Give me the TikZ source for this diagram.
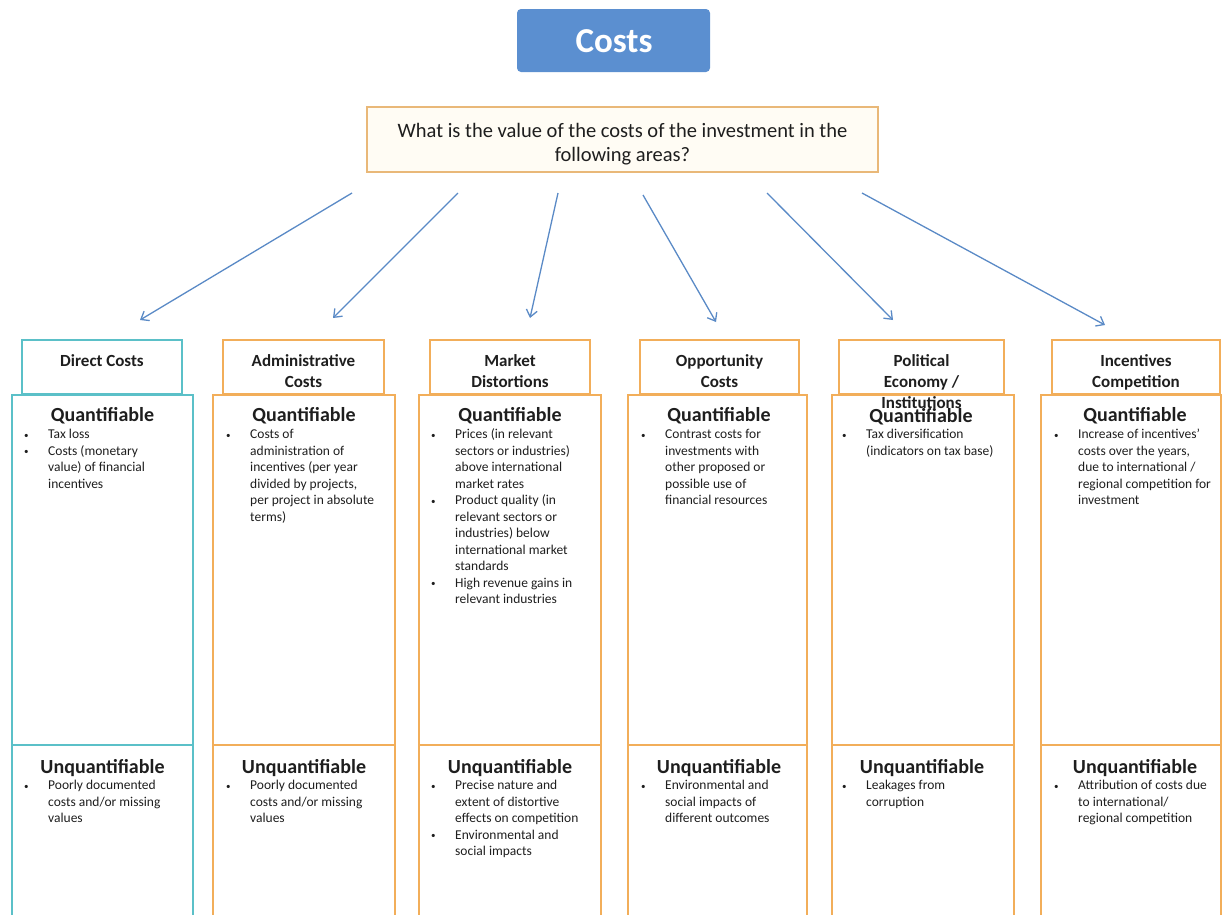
\documentclass[tikz,border=0pt]{standalone}
\usepackage{fontspec}
\setmainfont{Carlito}
\usetikzlibrary{arrows.meta}
\definecolor{costblue}{HTML}{5B8FD0}
\definecolor{orangeb}{HTML}{F2AE5A}
\definecolor{tealb}{HTML}{5BC0C8}
\definecolor{qborder}{HTML}{E9B878}
\definecolor{qfill}{HTML}{FFFCF4}
\definecolor{arrowc}{HTML}{5A8AC6}
\definecolor{txt}{HTML}{1E1E1E}
\tikzset{
  boxo/.style={draw=orangeb, line width=1.8pt, inner sep=0pt, rectangle},
  boxt/.style={draw=tealb, line width=1.8pt, inner sep=0pt, rectangle},
  htext/.style={anchor=north, inner sep=0pt, align=center, text=txt,
    font=\fontsize{17}{21}\selectfont\bfseries},
  qhead/.style={inner sep=0pt, text=txt, font=\fontsize{20}{24}\selectfont\bfseries},
  lst/.style={anchor=north west, inner sep=0pt, text=txt,
    font=\fontsize{13.5}{16.5}\selectfont},
  arr/.style={draw=arrowc, line width=1.3pt, -{Straight Barb[length=7pt,width=11pt,line width=1.3pt]}},
}
\newcommand\bul{\raisebox{0.5pt}{\fontsize{9}{9}\selectfont\textbullet}}
\begin{document}
\begin{tikzpicture}[x=1pt,y=-1pt]
\useasboundingbox (0,0) rectangle (1222,914);
\clip (0,0) rectangle (1222,914);

% title
\node[rectangle, rounded corners=4pt, fill=costblue, minimum width=193pt, minimum height=63pt,
  inner sep=0pt] (costs) at (613.5,40.5) {};
\node[text=white, inner sep=0pt, font=\fontsize{35}{40}\selectfont\bfseries] (coststxt) at (614,41) {Costs};

% question
\node[rectangle, draw=qborder, fill=qfill, line width=1.8pt, minimum width=511pt, minimum height=65pt,
  inner sep=0pt] (q) at (622.5,139.5) {};
\node[inner sep=0pt, align=center, text=txt, font=\fontsize{20.5}{24}\selectfont] (qtxt) at (622.5,144)
  {What is the value of the costs of the investment in the\\following areas?};

% arrows
\coordinate (s1) at (352,193); \coordinate (e1) at (140,320);
\coordinate (s2) at (458,193); \coordinate (e2) at (333,318);
\coordinate (s3) at (558,193); \coordinate (e3) at (530,318);
\coordinate (s4) at (643,195); \coordinate (e4) at (716,322);
\coordinate (s5) at (767,193); \coordinate (e5) at (893,320);
\coordinate (s6) at (862,193); \coordinate (e6) at (1105,325);
\foreach \i in {1,...,6} { \draw[arr] (s\i) -- (e\i); }

% ---------- column 1 : Direct Costs ----------
\node[boxt, minimum width=181pt, minimum height=350pt] (b1q) at (102.5,570) {};
\node[boxt, minimum width=181pt, minimum height=200pt] (b1u) at (102.5,845) {};
\node[boxt, minimum width=160pt, minimum height=54pt] (h1) at (102,367) {};
\node[htext] (h1t) at (102,354) {Direct Costs};
\node[qhead] (q1) at (102.5,416) {Quantifiable};
\node[qhead] (u1) at (102.5,768) {Unquantifiable};
\node[lst] (l1q) at (24,427) {\begin{tabular}{@{}p{24pt}@{}l@{}}
\bul & Tax loss\\
\bul & Costs (monetary\\
 & value) of financial\\
 & incentives
\end{tabular}};
\node[lst] (l1u) at (24,778) {\begin{tabular}{@{}p{24pt}@{}l@{}}
\bul & Poorly documented\\
 & costs and/or missing\\
 & values
\end{tabular}};

% ---------- column 2 : Administrative Costs ----------
\node[boxo, minimum width=182pt, minimum height=350pt] (b2q) at (304,570) {};
\node[boxo, minimum width=182pt, minimum height=200pt] (b2u) at (304,845) {};
\node[boxo, minimum width=161pt, minimum height=54pt] (h2) at (303.5,367) {};
\node[htext] (h2t) at (303.5,354) {Administrative\\Costs};
\node[qhead] (q2) at (304,416) {Quantifiable};
\node[qhead] (u2) at (304,768) {Unquantifiable};
\node[lst] (l2q) at (226,427) {\begin{tabular}{@{}p{24pt}@{}l@{}}
\bul & Costs of\\
 & administration of\\
 & incentives (per year\\
 & divided by projects,\\
 & per project in absolute\\
 & terms)
\end{tabular}};
\node[lst] (l2u) at (226,778) {\begin{tabular}{@{}p{24pt}@{}l@{}}
\bul & Poorly documented\\
 & costs and/or missing\\
 & values
\end{tabular}};

% ---------- column 3 : Market Distortions ----------
\node[boxo, minimum width=182pt, minimum height=350pt] (b3q) at (510,570) {};
\node[boxo, minimum width=182pt, minimum height=200pt] (b3u) at (510,845) {};
\node[boxo, minimum width=160pt, minimum height=54pt] (h3) at (510,367) {};
\node[htext] (h3t) at (510,354) {Market\\Distortions};
\node[qhead] (q3) at (510,416) {Quantifiable};
\node[qhead] (u3) at (510,768) {Unquantifiable};
\node[lst] (l3q) at (431,427) {\begin{tabular}{@{}p{24pt}@{}l@{}}
\bul & Prices (in relevant\\
 & sectors or industries)\\
 & above international\\
 & market rates\\
\bul & Product quality (in\\
 & relevant sectors or\\
 & industries) below\\
 & international market\\
 & standards\\
\bul & High revenue gains in\\
 & relevant industries
\end{tabular}};
\node[lst] (l3u) at (431,778) {\begin{tabular}{@{}p{24pt}@{}l@{}}
\bul & Precise nature and\\
 & extent of distortive\\
 & effects on competition\\
\bul & Environmental and\\
 & social impacts
\end{tabular}};

% ---------- column 4 : Opportunity Costs ----------
\node[boxo, minimum width=179pt, minimum height=350pt] (b4q) at (717.5,570) {};
\node[boxo, minimum width=179pt, minimum height=200pt] (b4u) at (717.5,845) {};
\node[boxo, minimum width=159pt, minimum height=54pt] (h4) at (719.5,367) {};
\node[htext] (h4t) at (719.5,354) {Opportunity\\Costs};
\node[qhead] (q4) at (719,416) {Quantifiable};
\node[qhead] (u4) at (719,768) {Unquantifiable};
\node[lst] (l4q) at (641,427) {\begin{tabular}{@{}p{24pt}@{}l@{}}
\bul & Contrast costs for\\
 & investments with\\
 & other proposed or\\
 & possible use of\\
 & financial resources
\end{tabular}};
\node[lst] (l4u) at (641,778) {\begin{tabular}{@{}p{24pt}@{}l@{}}
\bul & Environmental and\\
 & social impacts of\\
 & different outcomes
\end{tabular}};

% ---------- column 5 : Political Economy / Institutions ----------
\node[boxo, minimum width=182pt, minimum height=350pt] (b5q) at (923,570) {};
\node[boxo, minimum width=182pt, minimum height=200pt] (b5u) at (923,845) {};
\node[boxo, minimum width=165pt, minimum height=54pt] (h5) at (921.5,367) {};
\node[htext] (h5t) at (921.5,354) {Political\\Economy /\\Institutions};
\node[qhead] (q5) at (921,417) {Quantifiable};
\node[qhead] (u5) at (922,768) {Unquantifiable};
\node[lst] (l5q) at (842,427) {\begin{tabular}{@{}p{24pt}@{}l@{}}
\bul & Tax diversification\\
 & (indicators on tax base)
\end{tabular}};
\node[lst] (l5u) at (842,778) {\begin{tabular}{@{}p{24pt}@{}l@{}}
\bul & Leakages from\\
 & corruption
\end{tabular}};

% ---------- column 6 : Incentives Competition ----------
\node[boxo, minimum width=180pt, minimum height=350pt] (b6q) at (1131,570) {};
\node[boxo, minimum width=180pt, minimum height=200pt] (b6u) at (1131,845) {};
\node[boxo, minimum width=168pt, minimum height=54pt] (h6) at (1136,367) {};
\node[htext] (h6t) at (1136,354) {Incentives\\Competition};
\node[qhead] (q6) at (1135,416) {Quantifiable};
\node[qhead] (u6) at (1135,768) {Unquantifiable};
\node[lst] (l6q) at (1054,427) {\begin{tabular}{@{}p{24pt}@{}l@{}}
\bul & Increase of incentives'\\
 & costs over the years,\\
 & due to international /\\
 & regional competition for\\
 & investment
\end{tabular}};
\node[lst] (l6u) at (1054,778) {\begin{tabular}{@{}p{24pt}@{}l@{}}
\bul & Attribution of costs due\\
 & to international/\\
 & regional competition
\end{tabular}};
\end{tikzpicture}
\end{document}
